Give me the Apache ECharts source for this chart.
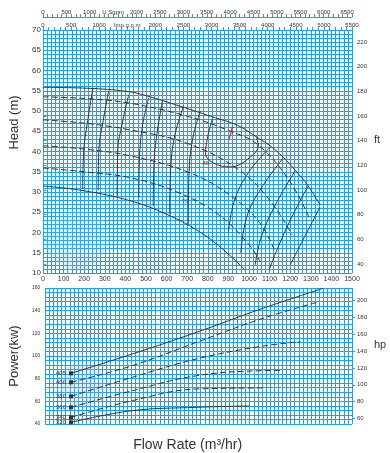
<!DOCTYPE html>
<html><head><meta charset="utf-8">
<script src="https://cdn.jsdelivr.net/npm/echarts@6/dist/echarts.min.js"></script>
<style>html,body{margin:0;padding:0;background:#fff}#c{width:390px;height:453px}</style>
</head><body><div id="c"></div>
<script>
// Impeller diameters
var diameters = ['405','400','380','360','340','320'];
// Head curves [Q m3/h, H m]
var head405 = [[0,55.85],[242,55.56],[426,54.7],[522,53.46],[677,51.0],[837,48.3],[943,46.5],[1045,43.3],[1103,41.4],[1166,38.6],[1224,35.4],[1287,31.5],[1345,26.8]];
var head400 = [[0,53.5],[200,53.1],[426,51.9],[700,48.7],[900,45.2],[1045,41.6],[1200,32.5],[1297,23.1]];
var head380 = [[0,47.8],[200,47.0],[426,45.3],[700,42.0],[950,35.5],[1100,28.0],[1209,19.4]];
var head360 = [[0,41.4],[200,40.6],[426,38.9],[700,35.0],[900,29.5],[1050,22.5],[1127,15.2]];
var head340 = [[0,35.9],[200,35.0],[426,33.5],[650,30.0],[850,24.5],[1000,17.0],[1055,12.7]];
var head320 = [[0,31.5],[200,30.3],[426,27.8],[600,24.5],[750,20.5],[870,16.0],[982,10.7]];
// Efficiency contours (%)
var eff40 = [[242,55.6],[215,47],[198,40.4],[193,30.7]];
var eff50 = [[319,55.0],[290,47],[271,40.4],[268,30.4]];
var eff60 = [[416,54.0],[385,47],[363,40.4],[360,29.0]];
var eff70 = [[513,53.2],[485,47],[470,40],[465,28.5]];
var eff75 = [[580,52.5],[555,45],[540,38],[535,26.5]];
var eff80 = [[682,51.2],[640,44],[620,36],[615,24.5]];
var eff83 = [[764,50.0],[730,44],[710,36],[705,22]];
var eff85 = [[822,48.0],[789,39.6],[827,37.2],[909,36.2],[1006,38.6],[1045,41.6],[1035,43.6]];
var eff87 = [[919,46.1],[905,43.1]];
var eff85r = [[1103,41.1],[1000,35],[930,28],[900,20]];
var eff83r = [[1166,38.4],[1060,31],[990,24],[960,15]];
var eff80r = [[1224,35.2],[1130,27],[1060,19],[1030,12]];
var eff75r = [[1287,31.5],[1200,23],[1130,15],[1100,11]];
var eff70r = [[1345,26.3],[1260,18],[1200,12]];
// Extra efficiency labels inside the field [Q, H, text]
var effNotes = [[790,37.0,'85'],[690,27.6,'70']];
// Power curves [Q m3/h, P kW]
var pow405 = [[126,84.7],[426,101.8],[740,120.9],[1055,141.5],[1360,159.8]];
var pow400 = [[126,76.8],[426,91.5],[740,112.1],[1055,132.7],[1330,147.4]];
var pow380 = [[126,64.4],[426,81.2],[740,97.4],[1055,108.5],[1248,112.6]];
var pow360 = [[126,54.7],[426,69.4],[740,82.6],[1055,87.0],[1150,87.2]];
var pow340 = [[126,45.9],[426,60.6],[740,70.9],[1070,71.8]];
var pow320 = [[126,41.5],[426,51.8],[740,54.7],[997,55.9]];
// Tick labels
var flowTicks = [0,100,200,300,400,500,600,700,800,900,1000,1100,1200,1300,1400,1500];
var usTicks = [0,500,1000,1500,2000,2500,3000,3500,4000,4500,5000,5500,6000,6500];
var impTicks = [0,500,1000,1500,2000,2500,3000,3500,4000,4500,5000,5500];
var ftTicks = [40,60,80,100,120,140,160,180,200,220];
var hpTicks = [60,80,100,120,140,160,180,200];

var GRID = '#1fa3e6', INK = '#333';
function range(a,b,s){var r=[];for(var v=a;v<=b+1e-9;v+=s)r.push(v);return r;}
function plain(v){return String(v);}
var chart = echarts.init(document.getElementById('c'));
function curve(data, x, y, dashed, label, labelPos){
  var d = data.map(function(p){return p.slice();});
  var last = {value:d[d.length-1]};
  if(label){ last.label = {show:true, formatter:label, position:labelPos||'right', fontSize:6, color:INK, distance:2}; }
  d[d.length-1] = last;
  return {type:'line', xAxisIndex:x, yAxisIndex:y, data:d, smooth:0.4, symbol:'none', showSymbol:false,
    lineStyle:{color:INK, width:1, type: dashed?[6,3]:'solid'}, label:{show:false}, z:5, silent:true, animation:false};
}
function effCurve(data, label){
  var d = data.map(function(p){return p.slice();});
  d[0] = {value:d[0], label:{show:true, formatter:label, position:'top', fontSize:6, color:INK, distance:1}};
  return {type:'line', xAxisIndex:0, yAxisIndex:0, data:d, smooth:0.4, symbol:'none', showSymbol:false,
    lineStyle:{color:INK, width:1}, z:4, silent:true, animation:false};
}
function powCurve(data, dashed, label){
  var d = data.map(function(p){return p.slice();});
  d[0] = {value:d[0], symbol:'rect', symbolSize:4, itemStyle:{color:INK},
    label:{show:true, formatter:label, position:'left', fontSize:6, color:INK, distance:3}};
  d[d.length-1] = {value:d[d.length-1], label:{show:true, formatter:label, position:'right', fontSize:6, color:INK, distance:2}};
  return {type:'line', xAxisIndex:1, yAxisIndex:2, data:d, smooth:0.4, symbol:'none', showSymbol:true,
    lineStyle:{color:INK, width:1, type: dashed?[6,3]:'solid'}, z:5, silent:true, animation:false};
}
var series = [
  // faint watermark discs behind the grids
  {type:'scatter', xAxisIndex:0, yAxisIndex:0, data:[[160,18.3]], symbolSize:62, silent:true, z:0,
   itemStyle:{color:'rgba(120,190,240,0.28)'}},
  {type:'scatter', xAxisIndex:1, yAxisIndex:2, data:[[184,75]], symbolSize:46, silent:true, z:0,
   itemStyle:{color:'rgba(120,190,240,0.28)'}},
  curve(head405,0,0,false,'405','bottom'),
  curve(head400,0,0,true,'400','bottom'),
  curve(head380,0,0,true,'380','right'),
  curve(head360,0,0,true,'360','right'),
  curve(head340,0,0,true,'340','right'),
  curve(head320,0,0,false,'320','right'),
  effCurve(eff40,'40'), effCurve(eff50,'50'), effCurve(eff60,'60'), effCurve(eff70,'70'),
  effCurve(eff75,'75'), effCurve(eff80,'80'), effCurve(eff83,'83'), effCurve(eff85,'85'),
  effCurve(eff85r,'83'), effCurve(eff83r,'80'), effCurve(eff80r,'75'), effCurve(eff75r,'70'), effCurve(eff70r,'60'),
  {type:'line', xAxisIndex:0, yAxisIndex:0, data:eff87, symbol:'none', lineStyle:{color:'#e02020', width:1.2}, z:6,
   label:{show:false}, markPoint:{symbol:'none', data:[{coord:eff87[0], label:{show:true, formatter:'87', fontSize:6, color:INK, offset:[5,-3]}}]}, animation:false},
  {type:'scatter', xAxisIndex:0, yAxisIndex:0, symbolSize:1, itemStyle:{color:'rgba(0,0,0,0)'}, silent:true, z:6,
   data:effNotes.map(function(n){return {value:[n[0],n[1]], label:{show:true, position:'inside', formatter:n[2], fontSize:6, color:INK}};})},
  powCurve(pow405,false,'405'), powCurve(pow400,true,'400'), powCurve(pow380,true,'380'),
  powCurve(pow360,true,'360'), powCurve(pow340,true,'340'), powCurve(pow320,false,'320')
];
var splitStyle = {show:true, lineStyle:{color:GRID, width:1}};
var option = {
  animation:false,
  grid:[{left:42, top:30, width:310, height:243}, {left:42, top:288, width:310, height:137}],
  xAxis:[
    {type:'value', gridIndex:0, min:0, max:1500, interval:100, position:'bottom',
     axisLine:{show:false}, axisTick:{show:false},
     axisLabel:{fontSize:7, color:INK, margin:3, customValues:flowTicks, formatter:plain},
     splitLine:splitStyle, minorTick:{show:false, splitNumber:5}, minorSplitLine:splitStyle},
    {type:'value', gridIndex:1, min:0, max:1500, interval:100, position:'bottom',
     axisLine:{show:false}, axisTick:{show:false}, axisLabel:{show:false},
     splitLine:splitStyle, minorTick:{show:false, splitNumber:5}, minorSplitLine:splitStyle,
     name:'Flow Rate (m³/hr)', nameLocation:'middle', nameGap:14,
     nameTextStyle:{fontSize:14, color:INK, fontFamily:'Liberation Sans', padding:[0,22,0,0]}},
    {type:'value', gridIndex:0, min:0, max:5500, position:'top',
     axisLine:{show:true, lineStyle:{color:GRID}}, axisTick:{show:true, length:3, lineStyle:{color:GRID}, customValues:range(0,5500,100)},
     axisLabel:{fontSize:6, color:INK, margin:2, customValues:impTicks, formatter:function(v){return v===1500?'Imp.g.p.m':String(v);}},
     splitLine:{show:false}},
    {type:'value', gridIndex:0, min:0, max:6604.3, position:'top', offset:13,
     axisLine:{show:true, lineStyle:{color:GRID}}, axisTick:{show:true, length:3, lineStyle:{color:GRID}, customValues:range(0,6600,100)},
     axisLabel:{fontSize:6, color:INK, margin:2, customValues:usTicks, formatter:function(v){return v===1500?'U.Sgpm':String(v);}},
     splitLine:{show:false}}
  ],
  yAxis:[
    {type:'value', gridIndex:0, min:10, max:70, interval:5, position:'left',
     axisLine:{show:false}, axisTick:{show:false}, axisLabel:{fontSize:8, color:INK, margin:2},
     splitLine:splitStyle, minorTick:{show:false, splitNumber:5}, minorSplitLine:splitStyle,
     name:'Head (m)', nameLocation:'middle', nameGap:22,
     nameTextStyle:{fontSize:13, color:INK, fontFamily:'Liberation Sans', padding:[0,0,0,58]}},
    {type:'value', gridIndex:0, min:32.808, max:229.659, position:'right',
     axisLine:{show:false}, axisTick:{show:true, length:3, inside:false, lineStyle:{color:GRID}, customValues:ftTicks},
     axisLabel:{fontSize:6, color:INK, margin:5, customValues:ftTicks}, splitLine:{show:false},
     name:'ft', nameLocation:'middle', nameGap:22, nameRotate:0, nameTextStyle:{fontSize:11, color:INK, verticalAlign:'bottom', padding:[0,0,6,0]}},
    {type:'value', gridIndex:1, min:40, max:160, interval:20, position:'left',
     axisLine:{show:false}, axisTick:{show:false}, axisLabel:{fontSize:5, color:INK, margin:5},
     splitLine:splitStyle, minorTick:{show:false, splitNumber:5}, minorSplitLine:splitStyle,
     name:'Power(kw)', nameLocation:'middle', nameGap:22,
     nameTextStyle:{fontSize:13, color:INK, fontFamily:'Liberation Sans'}},
    {type:'value', gridIndex:1, min:53.64, max:214.56, position:'right',
     axisLine:{show:false}, axisTick:{show:true, length:3, lineStyle:{color:GRID}, customValues:hpTicks},
     axisLabel:{fontSize:6, color:INK, margin:5, customValues:hpTicks}, splitLine:{show:false},
     name:'hp', nameLocation:'middle', nameGap:22, nameRotate:0, nameTextStyle:{fontSize:11, color:INK, verticalAlign:'bottom', padding:[0,0,6,0]}}
  ],
  series: series
};
chart.setOption(option);
</script></body></html>
